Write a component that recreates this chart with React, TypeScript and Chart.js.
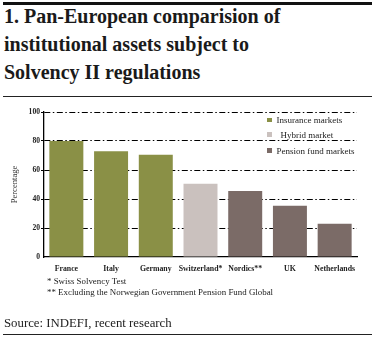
import React, { useEffect, useRef } from "react";
import { Chart, registerables } from "chart.js";

Chart.register(...registerables);

const categories = ["France", "Italy", "Germany", "Switzerland*", "Nordics**", "UK", "Netherlands"];
const values = [80, 73, 70.5, 50.5, 45.5, 35.3, 23];
const groups = ["ins", "ins", "ins", "hyb", "pen", "pen", "pen"];
const yTicks = [0, 20, 40, 60, 80, 100];
const legendItems = [
  { key: "ins", label: "Insurance markets" },
  { key: "hyb", label: "Hybrid market" },
  { key: "pen", label: "Pension fund markets" },
];
const colors: Record<string, string> = { ins: "#8a9046", hyb: "#cac1be", pen: "#7b6b67" };

const SERIF = "'Liberation Serif', 'Times New Roman', serif";

export default function App() {
  const ref = useRef<HTMLCanvasElement | null>(null);
  useEffect(() => {
    if (!ref.current) return;
    const chart = new Chart(ref.current, {
      type: "bar",
      data: {
        labels: categories,
        datasets: [
          {
            data: values,
            backgroundColor: groups.map((g) => colors[g]),
            barPercentage: 0.76,
            categoryPercentage: 1,
          },
        ],
      },
      options: {
        animation: false,
        responsive: false,
        maintainAspectRatio: false,
        layout: { padding: { left: 0, right: 19, top: 12, bottom: 0 } },
        plugins: { legend: { display: false }, tooltip: { enabled: false } },
        scales: {
          x: {
            grid: { display: false, drawTicks: false },
            border: { display: true, color: "#000", width: 1.3 },
            ticks: {
              color: "#222",
              padding: 7,
              maxRotation: 0,
              autoSkip: false,
              font: { family: SERIF, size: 7.8, weight: "bold" },
            },
            afterFit: (s: any) => {
              s.height = 23;
            },
          },
          y: {
            min: 0,
            max: 100,
            afterBuildTicks: (s: any) => {
              s.ticks = yTicks.map((v) => ({ value: v }));
            },
            grid: {
              color: (ctx: any) => (ctx.tick && ctx.tick.value === 0 ? "rgba(0,0,0,0)" : "#000"),
              lineWidth: 1,
              tickLength: 3,
              tickColor: (ctx: any) => (ctx.tick && ctx.tick.value === 0 ? "rgba(0,0,0,0)" : "#000"),
            },
            border: { display: true, color: "#000", width: 1.3, dash: [6, 2.5, 1.5, 2.5] },
            ticks: {
              color: "#222",
              padding: 1,
              font: { family: SERIF, size: 7.6, weight: "bold" },
            },
            title: {
              display: true,
              text: "Percentage",
              color: "#333",
              font: { family: SERIF, size: 8.6 },
              padding: { top: 10, bottom: 0 },
            },
            afterFit: (s: any) => {
              s.width = 44;
            },
          },
        },
      },
    });
    return () => chart.destroy();
  }, []);

  const legendY = [120, 134.5, 150.5];
  return (
    <div style={{ position: "absolute", left: 0, top: 0, width: 376, height: 337, background: "#fff", fontFamily: SERIF, color: "#111" }}>
      <div style={{ position: "absolute", left: 3, top: 2, width: 369, height: 2.5, background: "#111" }} />
      <div
        style={{
          position: "absolute",
          left: 4,
          top: 2,
          fontSize: 20,
          fontWeight: "bold",
          lineHeight: "28px",
          whiteSpace: "nowrap",
          color: "#1a1a1a",
        }}
      >
        1. Pan-European comparision of
        <br />
        institutional assets subject to
        <br />
        Solvency II regulations
      </div>
      <div style={{ position: "absolute", left: 3, top: 96, width: 369, height: 1, background: "#222" }} />
      <canvas ref={ref} width={376} height={180} style={{ position: "absolute", left: 0, top: 100, width: 376, height: 180 }} />
      {legendItems.map((it, i) => (
        <div key={it.key} style={{ position: "absolute", left: 267, top: legendY[i] - 6, height: 12, display: "flex", alignItems: "center", fontSize: 9, color: "#222", whiteSpace: "nowrap" }}>
          <span style={{ display: "inline-block", width: 4.5, height: 4.5, background: colors[it.key], marginRight: it.key === "hyb" ? 9 : 5 }} />
          {it.label}
        </div>
      ))}
      <div style={{ position: "absolute", left: 47, top: 276, fontSize: 8.9, lineHeight: "10.5px", color: "#222", whiteSpace: "nowrap" }}>
        * Swiss Solvency Test
        <br />
        ** Excluding the Norwegian Government Pension Fund Global
      </div>
      <div style={{ position: "absolute", left: 4, top: 314.5, fontSize: 12.8, lineHeight: "16px", color: "#222", whiteSpace: "nowrap" }}>
        Source: INDEFI, recent research
      </div>
      <div style={{ position: "absolute", left: 3, top: 333.5, width: 369, height: 1, background: "#222" }} />
    </div>
  );
}
